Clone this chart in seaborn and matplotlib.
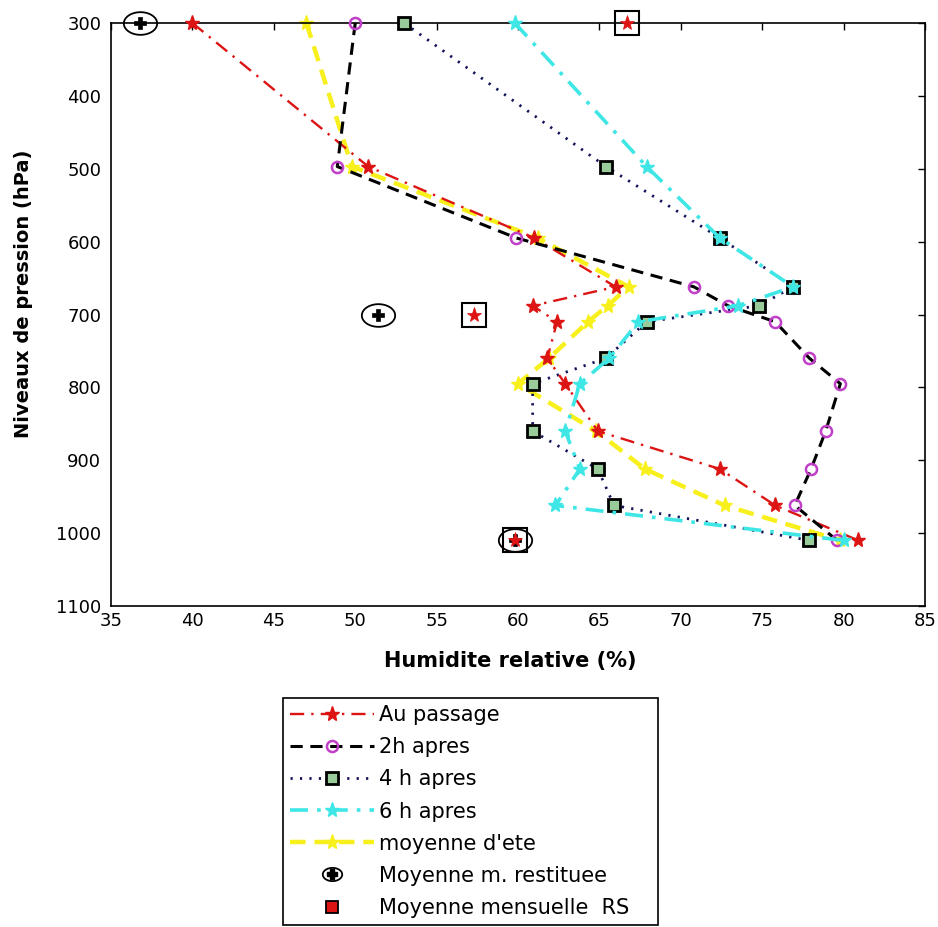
import numpy as np
import matplotlib
matplotlib.use("Agg")
import matplotlib.pyplot as plt
import seaborn as sns
from matplotlib.path import Path
from matplotlib.lines import Line2D
from matplotlib.legend_handler import HandlerTuple

# ---------------- data ----------------
pression = [300, 497, 595, 662, 688, 710, 760, 795, 860, 912, 962, 1010]
au_passage = [40.0, 50.8, 61.0, 66.0, 60.9, 62.4, 61.8, 62.9, 64.9, 72.4, 75.8, 80.9]
h2_apres = [50.0, 48.9, 59.9, 70.8, 72.9, 75.8, 77.9, 79.8, 78.9, 78.0, 77.0, 79.6]
h4_apres = [53.0, 65.4, 72.4, 76.9, 74.8, 67.9, 65.4, 60.9, 60.9, 64.9, 65.9, 77.9]
h6_apres = [59.8, 67.9, 72.4, 76.9, 73.5, 67.4, 65.6, 63.8, 62.9, 63.8, 62.3, 80.0]
moy_ete = [47.0, 49.8, 61.2, 66.8, 65.5, 64.3, 61.9, 60.0, 64.8, 67.8, 72.7, 79.8]

p_special = [300, 700, 1010]
moy_restituee = [36.8, 51.4, 59.8]
moy_rs = [66.7, 57.3, 59.8]

labels = ["Au passage", "2h apres", "4 h apres", "6 h apres", "moyenne d'ete",
          "Moyenne m. restituee", "Moyenne mensuelle  RS"]
xticks = list(range(35, 90, 5))
yticks = list(range(300, 1200, 100))

# ---------------- style ----------------
sns.set_style("white")
plt.rcParams["font.family"] = ["DejaVu Sans"]
plt.rcParams["text.color"] = "black"
plt.rcParams["axes.labelcolor"] = "black"

RED = "#dd1414"
MAG = "#c040c8"
NAVY = "#14145a"
GREEN = "#9acb9a"
CYAN = "#3fe6e6"
YEL = "#f7f01c"

theta = np.linspace(0, 2 * np.pi, 80)
ellipse = Path(np.column_stack([np.cos(theta), 0.68 * np.sin(theta)]))

fig = plt.figure(figsize=(9.38, 9.27), dpi=100)
ax = fig.add_axes([111 / 938, 1 - 606 / 927, 814 / 938, 583 / 927])

common = dict(sort=False, estimator=None, legend=False, ax=ax, clip_on=False)

sns.lineplot(x=moy_ete, y=pression, color=YEL, lw=3.2, linestyle=(0, (3.5, 2.0)),
             marker="*", markersize=11, mfc=YEL, mec=YEL, mew=1, zorder=2, **common)
sns.lineplot(x=h4_apres, y=pression, color=NAVY, lw=2.0, linestyle=(0, (0.8, 2.6)),
             marker="s", markersize=9, mfc=GREEN, mec="black", mew=2, zorder=3, **common)
sns.lineplot(x=au_passage, y=pression, color=RED, lw=1.7, linestyle=(0, (6, 3, 1, 3)),
             marker="*", markersize=11, mfc=RED, mec=RED, mew=1, zorder=4, **common)
sns.lineplot(x=h2_apres, y=pression, color="black", lw=2.2, linestyle=(0, (4, 2.5)),
             marker="o", markersize=8, mfc="none", mec=MAG, mew=1.8, zorder=5, **common)
sns.lineplot(x=h6_apres, y=pression, color=CYAN, lw=2.6, linestyle=(0, (5, 2.5, 1, 2.5)),
             marker="*", markersize=11, mfc=CYAN, mec=CYAN, mew=1, zorder=6, **common)

# special points
sns.lineplot(x=moy_restituee, y=p_special, color="black", linestyle="",
             marker=ellipse, markersize=24, mfc="none", mec="black", mew=1.3, zorder=7, **common)
sns.lineplot(x=moy_restituee, y=p_special, color="black", linestyle="",
             marker="P", markersize=8, mfc="black", mec="black", mew=0.5, zorder=7, **common)
sns.lineplot(x=moy_rs, y=p_special, color="black", linestyle="",
             marker="s", markersize=17, mfc="none", mec="black", mew=1.5, zorder=8, **common)
sns.lineplot(x=moy_rs, y=p_special, color=RED, linestyle="",
             marker="*", markersize=11, mfc=RED, mec=RED, mew=0.5, zorder=8, **common)

# ---------------- axes ----------------
ax.set_xlim(35, 85)
ax.set_ylim(1100, 300)
ax.set_xticks(xticks)
ax.set_yticks(yticks)
ax.tick_params(direction="in", top=True, right=True, length=5, width=1,
               labelsize=13, colors="black")
ax.tick_params(axis="x", pad=4)
ax.tick_params(axis="y", pad=7)
for s in ax.spines.values():
    s.set_color("black")
    s.set_linewidth(1.2)
    s.set_visible(True)

ax.set_xlabel("Humidite relative (%)", fontsize=15, fontweight="bold", color="black")
ax.set_ylabel("Niveaux de pression (hPa)", fontsize=14, fontweight="bold", color="black")
ax.xaxis.set_label_coords(0.49, -0.077)
ax.yaxis.set_label_coords(-0.096, 0.535)

# ---------------- legend ----------------
h_red = Line2D([], [], color=RED, lw=1.7, linestyle=(0, (6, 3, 1, 3)), marker="*",
               markersize=11, mfc=RED, mec=RED)
h_2h = Line2D([], [], color="black", lw=2.2, linestyle=(0, (4, 2.5)), marker="o",
              markersize=8, mfc="none", mec=MAG, mew=1.8)
h_4h = Line2D([], [], color=NAVY, lw=2.0, linestyle=(0, (0.8, 2.6)), marker="s",
              markersize=9, mfc=GREEN, mec="black", mew=2)
h_6h = Line2D([], [], color=CYAN, lw=2.6, linestyle=(0, (5, 2.5, 1, 2.5)), marker="*",
              markersize=11, mfc=CYAN, mec=CYAN)
h_ete = Line2D([], [], color=YEL, lw=3.2, linestyle=(0, (3.5, 2.0)), marker="*",
               markersize=11, mfc=YEL, mec=YEL)
h_rest = (Line2D([], [], linestyle="", marker=ellipse, markersize=14, mfc="none",
                 mec="black", mew=1.3),
          Line2D([], [], linestyle="", marker="P", markersize=7, mfc="black", mec="black"))
h_rs = Line2D([], [], linestyle="", marker="s", markersize=8, mfc=RED, mec="black", mew=1.3)

leg = fig.legend([h_red, h_2h, h_4h, h_6h, h_ete, h_rest, h_rs], labels,
                 loc="upper left", bbox_to_anchor=(283 / 938, 0, 375 / 938, 1 - 698 / 927),
                 mode="expand", fontsize=15, handlelength=4.0, handletextpad=0.25,
                 labelspacing=0.58, borderpad=0.35, borderaxespad=0, numpoints=1,
                 frameon=True, fancybox=False, framealpha=1,
                 handler_map={tuple: HandlerTuple(ndivide=1)})
leg.get_frame().set_edgecolor("black")
leg.get_frame().set_linewidth(1.2)
for t in leg.get_texts():
    t.set_color("black")

fig.savefig("out.png", dpi=100)
